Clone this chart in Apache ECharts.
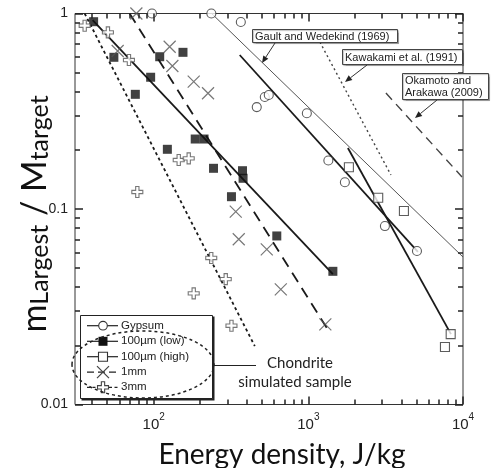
<!DOCTYPE html>
<html><head><meta charset="utf-8">
<script src="https://cdn.jsdelivr.net/npm/echarts@6/dist/echarts.min.js"></script>
<style>html,body{margin:0;padding:0;background:#fff;}#c{width:495px;height:468px;}</style>
</head><body><div id="c"></div>
<script>
// ---- data (energy density J/kg, m_largest/M_target) ----
const gypsumE = [97.5, 236, 366, 464, 523, 555, 978, 1347, 1723, 3127, 5039];
const gypsumM = [1.0, 1.0, 0.905, 0.332, 0.374, 0.383, 0.309, 0.177, 0.137, 0.0818, 0.061];
const lowE = [40.9, 55.3, 76.1, 95.6, 109.4, 154.7, 122.6, 185.6, 211.7, 243.8, 375.2, 378.5, 318.4, 625.3, 1441];
const lowM = [0.908, 0.597, 0.386, 0.472, 0.601, 0.633, 0.202, 0.228, 0.228, 0.1615, 0.157, 0.1436, 0.1156, 0.0728, 0.048];
const highE = [1829, 2830, 4150, 8325, 7645];
const highM = [0.1634, 0.1142, 0.0977, 0.0229, 0.0197];
const mm1E = [77.3, 58.5, 126.9, 132.1, 181.5, 224.6, 339.4, 354.9, 538.6, 663.7, 1288];
const mm1M = [1.0, 0.643, 0.676, 0.539, 0.448, 0.391, 0.0969, 0.070, 0.0622, 0.0388, 0.0257];
const mm3E = [35.8, 50.6, 69.2, 145.2, 168.5, 78.4, 235.6, 292.4, 181.5, 318.4];
const mm3M = [0.866, 0.801, 0.578, 0.178, 0.1816, 0.1222, 0.0562, 0.0438, 0.037, 0.0253];
// fit / reference lines (end points)
const fitGypsumE = [360, 5114], fitGypsumM = [0.6135, 0.0603];
const fitLowE = [40.3, 1441], fitLowM = [0.926, 0.0465];
const fitHighE = [1802, 8361], fitHighM = [0.205, 0.0229];
const fit1mmE = [69.9, 1317], fit1mmM = [1.0, 0.0246];
const fit3mmE = [35.8, 450.5], fit3mmM = [1.0, 0.0199];
const gaultE = [237, 10000], gaultM = [1.0, 0.0568];
const kawakamiE = [1187, 3420], kawakamiM = [0.715, 0.1493];
const okamotoE = [3175, 9851], okamotoM = [0.392, 0.1458];
const legendNames = ['Gypsum', '100\u00b5m (low)', '100\u00b5m (high)', '1mm', '3mm'];
// axis ticks
const xMajorTicks = [100, 1000, 10000];
const xMinorTicks = [40, 50, 60, 70, 80, 90, 200, 300, 400, 500, 600, 700, 800, 900, 2000, 3000, 4000, 5000, 6000, 7000, 8000, 9000];
const yMajorTicks = [0.01, 0.1, 1];
const yMinorTicks = [0.02, 0.03, 0.04, 0.05, 0.06, 0.07, 0.08, 0.09, 0.2, 0.3, 0.4, 0.5, 0.6, 0.7, 0.8, 0.9];
const X_MIN = 31, X_MAX = 10000, Y_MIN = 0.01, Y_MAX = 1;

const FONT = '"Liberation Sans", Arial, sans-serif';
const TFONT = 'Lato, "Open Sans", sans-serif';
function pts(E, M) { return E.map((e, i) => [e, M[i]]); }
const xPath = 'path://M0,0L10,10M10,0L0,10';
const plusPath = 'path://M3.5,0L6.5,0L6.5,3.5L10,3.5L10,6.5L6.5,6.5L6.5,10L3.5,10L3.5,6.5L0,6.5L0,3.5L3.5,3.5Z';

function lineS(E, M, style) {
  return { type: 'line', data: pts(E, M), symbol: 'none', lineStyle: style, silent: true, clip: false, z: 2, animation: false };
}
function scat(name, E, M, symbol, size, itemStyle) {
  return { name, type: 'scatter', data: pts(E, M), symbol, symbolSize: size, itemStyle, clip: false, z: 3, animation: false, silent: true };
}
const thick = '#1a1a1a';

const chart = echarts.init(document.getElementById('c'), null, { renderer: 'canvas' });

function isPow10(v) { const l = Math.log10(v); return Math.abs(l - Math.round(l)) < 1e-6; }

const series = [
  lineS(gaultE, gaultM, { color: '#555', width: 1 }),
  lineS(kawakamiE, kawakamiM, { color: '#444', width: 1.4, type: [2, 3] }),
  lineS(okamotoE, okamotoM, { color: '#444', width: 1.4, type: [9, 6] }),
  lineS(fitGypsumE, fitGypsumM, { color: thick, width: 1.8 }),
  lineS(fitLowE, fitLowM, { color: thick, width: 1.8 }),
  lineS(fitHighE, fitHighM, { color: thick, width: 1.8 }),
  lineS(fit1mmE, fit1mmM, { color: thick, width: 1.8, type: [11, 7] }),
  lineS(fit3mmE, fit3mmM, { color: thick, width: 1.8, type: [3, 3] }),
  scat(legendNames[0], gypsumE, gypsumM, 'circle', 9, { color: '#fff', borderColor: '#333', borderWidth: 1.1 }),
  scat(legendNames[1], lowE, lowM, 'rect', 9, { color: '#111', borderColor: '#111', borderWidth: 0 }),
  scat(legendNames[2], highE, highM, 'rect', 9, { color: '#fff', borderColor: '#333', borderWidth: 1.1 }),
  scat(legendNames[3], mm1E, mm1M, xPath, 12, { color: 'rgba(0,0,0,0)', borderColor: '#555', borderWidth: 1.2 }),
  scat(legendNames[4], mm3E, mm3M, plusPath, 11, { color: '#fff', borderColor: '#555', borderWidth: 1.1 })
];

function tickAxis(minV, maxV, position, values, len) {
  return {
    type: 'log', logBase: 10, min: minV, max: maxV, position: position, z: 5,
    axisLine: { show: false }, splitLine: { show: false }, minorTick: { show: false },
    axisLabel: { show: false },
    axisTick: { show: true, inside: true, length: len, customValues: values, lineStyle: { color: '#222', width: 1.5 } }
  };
}

chart.setOption({
  animation: false,
  backgroundColor: '#fff',
  grid: { left: 75, right: 32, top: 13.5, bottom: 63.5, show: true, borderColor: '#333', borderWidth: 1, backgroundColor: 'transparent' },
  xAxis: [
    {
      type: 'log', logBase: 10, min: X_MIN, max: X_MAX, position: 'bottom', z: 5,
      axisLine: { show: false }, splitLine: { show: false }, minorTick: { show: false },
      axisTick: { show: true, inside: true, length: 8, customValues: xMajorTicks, lineStyle: { color: '#222', width: 1.5 } },
      axisLabel: {
        margin: 8, color: '#222', customValues: xMajorTicks,
        formatter: v => isPow10(v) ? '{b|10}{s|' + Math.round(Math.log10(v)) + '}' : '',
        rich: { b: { fontSize: 15, fontFamily: FONT, color: '#222', lineHeight: 20, verticalAlign: 'bottom' },
                s: { fontSize: 10, fontFamily: FONT, color: '#222', lineHeight: 20, verticalAlign: 'top' } }
      }
    },
    tickAxis(X_MIN, X_MAX, 'bottom', xMinorTicks, 5),
    tickAxis(X_MIN, X_MAX, 'top', xMajorTicks, 8),
    tickAxis(X_MIN, X_MAX, 'top', xMinorTicks, 5)
  ],
  yAxis: [
    {
      type: 'log', logBase: 10, min: Y_MIN, max: Y_MAX, position: 'left', z: 5,
      axisLine: { show: false }, splitLine: { show: false }, minorTick: { show: false },
      axisTick: { show: true, inside: true, length: 8, customValues: yMajorTicks, lineStyle: { color: '#222', width: 1.5 } },
      axisLabel: { margin: 7, color: '#222', fontSize: 14, fontFamily: FONT, customValues: yMajorTicks,
        formatter: v => { const l = Math.round(Math.log10(v)); return l === 0 ? '1' : l === -1 ? '0.1' : '0.01'; } }
    },
    tickAxis(Y_MIN, Y_MAX, 'left', yMinorTicks, 5),
    tickAxis(Y_MIN, Y_MAX, 'right', yMajorTicks, 8),
    tickAxis(Y_MIN, Y_MAX, 'right', yMinorTicks, 5)
  ],
  series: series
});

// ---- annotations ----
function arrow(x1, y1, x2, y2) {
  const a = Math.atan2(y2 - y1, x2 - x1), h = 7, w = 3;
  const bx = x2 - h * Math.cos(a), by = y2 - h * Math.sin(a);
  return [
    { type: 'line', shape: { x1, y1, x2: bx, y2: by }, style: { stroke: '#333', lineWidth: 1 }, z: 20 },
    { type: 'polygon', shape: { points: [[x2, y2], [bx + w * Math.sin(a), by - w * Math.cos(a)], [bx - w * Math.sin(a), by + w * Math.cos(a)]] }, style: { fill: '#222' }, z: 20 }
  ];
}
function box(x, y, w, h) {
  return { type: 'rect', shape: { x, y, width: w, height: h }, style: { fill: '#fff', stroke: '#444', lineWidth: 1, shadowColor: 'rgba(0,0,0,0.25)', shadowOffsetX: 1, shadowOffsetY: 1, shadowBlur: 1 }, z: 20 };
}
function txt(x, y, text, size, extra) {
  return Object.assign({ type: 'text', x, y, z: 21, style: { text, fill: '#222', font: size + 'px ' + FONT, verticalAlign: 'middle', align: 'left' } }, extra || {});
}
const g = [];
g.push(box(252.5, 29.5, 145, 13), txt(255, 36.5, 'Gault and Wedekind (1969)', 11));
g.push(box(342.5, 49.5, 120, 15), txt(345, 57.5, 'Kawakami et al. (1991)', 11));
g.push(box(402.5, 73.5, 86, 26), txt(405, 80.5, 'Okamoto and', 11), txt(405, 92.5, 'Arakawa (2009)', 11));
g.push(...arrow(275, 43, 262, 63), ...arrow(367, 65, 345, 82), ...arrow(437, 100, 415, 118));

// legend
g.push({ type: 'rect', shape: { x: 80.5, y: 315.5, width: 132, height: 83 }, style: { fill: '#fff', stroke: '#222', lineWidth: 1 }, z: 20 });
g.push({ type: 'polyline', shape: { points: [[213.5, 316.5], [213.5, 399.5], [81.5, 399.5]] }, style: { stroke: '#222', lineWidth: 2, fill: null }, z: 20 });
const rows = [325.7, 341.3, 356.7, 372.2, 387.3];
const lx1 = 87, lx2 = 118, mx = 103;
const dashes = [null, null, null, [7, 4], [3, 2.5]];
rows.forEach((ry, i) => {
  g.push({ type: 'line', shape: { x1: lx1, y1: ry, x2: lx2, y2: ry }, style: { stroke: '#222', lineWidth: 1.2, lineDash: dashes[i] }, z: 21 });
  g.push(txt(121, ry, legendNames[i], 11.5, {}));
});
g.push({ type: 'circle', shape: { cx: mx, cy: rows[0], r: 4.3 }, style: { fill: '#fff', stroke: '#333', lineWidth: 1.1 }, z: 22 });
g.push({ type: 'rect', shape: { x: mx - 4.5, y: rows[1] - 4.5, width: 9, height: 9 }, style: { fill: '#111' }, z: 22 });
g.push({ type: 'rect', shape: { x: mx - 4.5, y: rows[2] - 4.5, width: 9, height: 9 }, style: { fill: '#fff', stroke: '#333', lineWidth: 1.1 }, z: 22 });
g.push({ type: 'polyline', shape: { points: [[mx - 6, rows[3] - 6], [mx + 6, rows[3] + 6]] }, style: { stroke: '#444', lineWidth: 1.2 }, z: 22 });
g.push({ type: 'polyline', shape: { points: [[mx + 6, rows[3] - 6], [mx - 6, rows[3] + 6]] }, style: { stroke: '#444', lineWidth: 1.2 }, z: 22 });
(function () {
  const s = 11 / 10, ox = mx - 5.5, oy = rows[4] - 5.5;
  const p = [[3.5, 0], [6.5, 0], [6.5, 3.5], [10, 3.5], [10, 6.5], [6.5, 6.5], [6.5, 10], [3.5, 10], [3.5, 6.5], [0, 6.5], [0, 3.5], [3.5, 3.5]].map(q => [ox + q[0] * s, oy + q[1] * s]);
  g.push({ type: 'polygon', shape: { points: p }, style: { fill: '#fff', stroke: '#444', lineWidth: 1.1 }, z: 22 });
})();
// chondrite ellipse
g.push({ type: 'ellipse', shape: { cx: 143, cy: 364.5, rx: 71, ry: 33.5 }, style: { fill: null, stroke: '#222', lineWidth: 1.5, lineDash: [3, 3] }, z: 23 });
g.push({ type: 'line', shape: { x1: 214, y1: 365.5, x2: 256, y2: 365.5 }, style: { stroke: '#222', lineWidth: 1 }, z: 23 });
g.push({ type: 'text', x: 300, y: 363, z: 23, style: { text: 'Chondrite', fill: '#222', font: '15px ' + TFONT, align: 'center', verticalAlign: 'middle' } });
g.push({ type: 'text', x: 295, y: 382, z: 23, style: { text: 'simulated sample', fill: '#222', font: '15px ' + TFONT, align: 'center', verticalAlign: 'middle' } });
// axis titles
g.push({ type: 'text', x: 282, y: 455, z: 23, style: { text: 'Energy density, J/kg', fill: '#111', font: '28px ' + TFONT, align: 'center', verticalAlign: 'middle' } });
g.push({ type: 'text', x: 32, y: 214, rotation: Math.PI / 2, z: 23, style: {
  text: '{m|m}{s|Largest}{m| / M}{s|target}', align: 'center', verticalAlign: 'middle',
  rich: {
    m: { fontSize: 34, fontFamily: TFONT, fill: '#111', lineHeight: 40, verticalAlign: 'bottom' },
    s: { fontSize: 25, fontFamily: TFONT, fill: '#111', lineHeight: 40, verticalAlign: 'bottom' }
  } } });

chart.setOption({ graphic: { elements: g } });
</script></body></html>
